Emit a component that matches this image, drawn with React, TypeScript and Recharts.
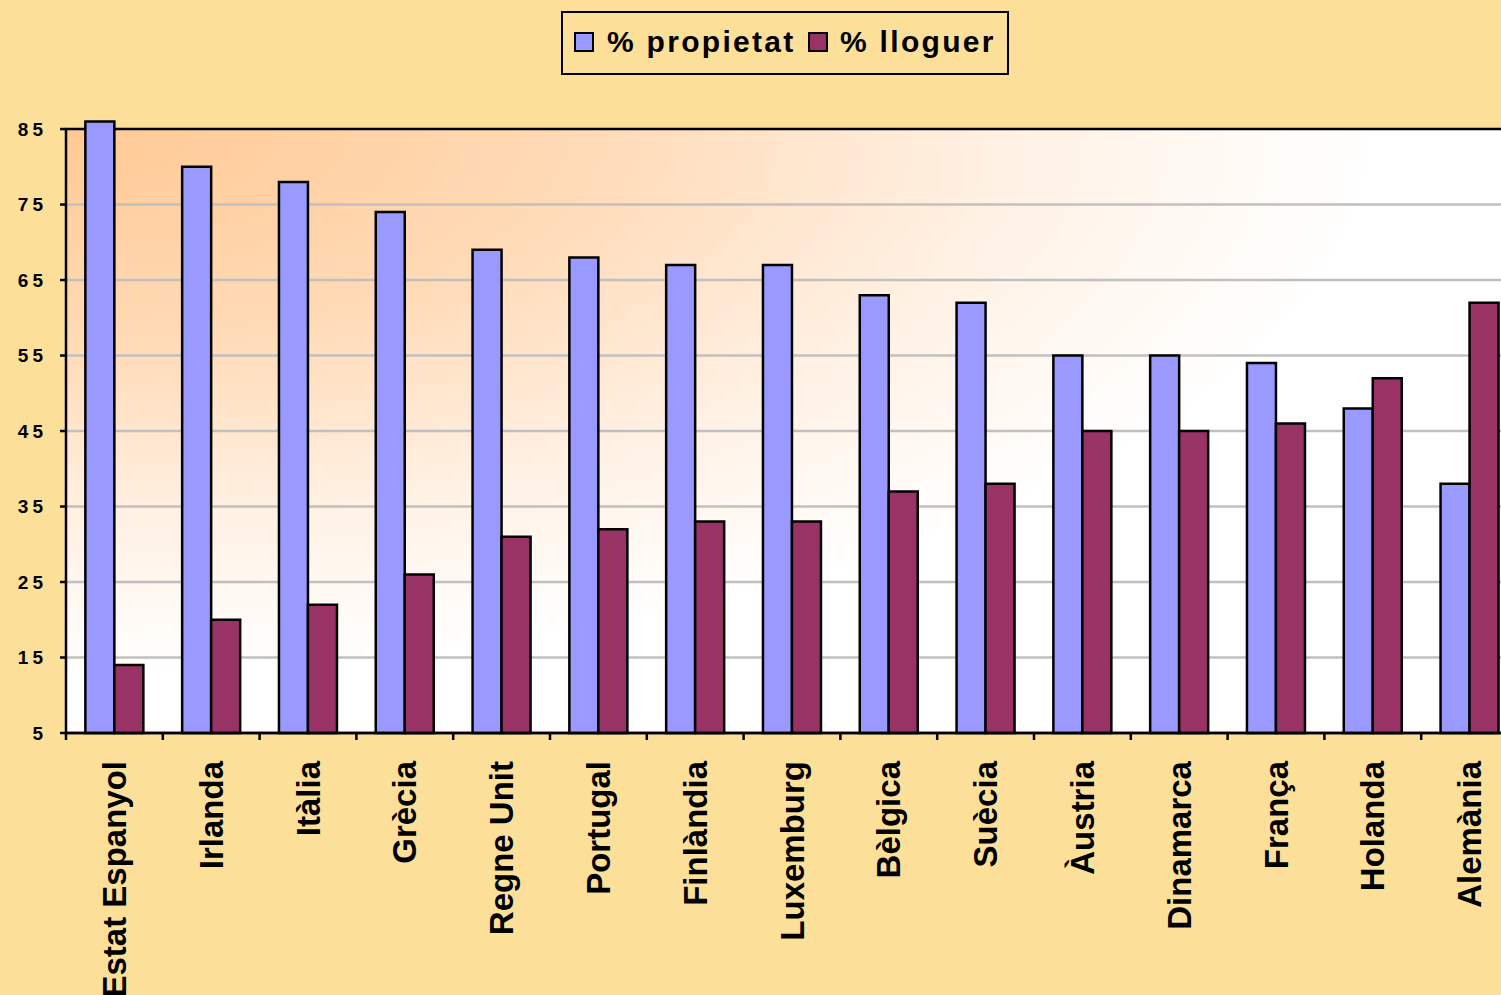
import React from 'react';
import { BarChart, Bar, XAxis, YAxis, ReferenceArea, ReferenceLine, Legend } from 'recharts';

const categories = ['Estat Espanyol', 'Irlanda', 'Itàlia', 'Grècia', 'Regne Unit', 'Portugal', 'Finlàndia', 'Luxemburg', 'Bèlgica', 'Suècia', 'Àustria', 'Dinamarca', 'França', 'Holanda', 'Alemània'];
const propietat = [86, 80, 78, 74, 69, 68, 67, 67, 63, 62, 55, 55, 54, 48, 38];
const lloguer = [14, 20, 22, 26, 31, 32, 33, 33, 37, 38, 45, 45, 46, 52, 62];
const yTicks = [5, 15, 25, 35, 45, 55, 65, 75, 85];
const gridValues = [15, 25, 35, 45, 55, 65, 75];
const seriesNames = ['% propietat', '% lloguer'];

const data = categories.map((c, i) => ({ name: c, propietat: propietat[i], lloguer: lloguer[i] }));

const BG = '#FCE09A';
const FONT = '"Liberation Sans", Arial, sans-serif';
const CHART_W = 1518;
const CHART_H = 995;
const YAXIS_W = 66;
const BAND = (CHART_W - YAXIS_W) / categories.length;

const XTick = (props: any) => {
  const { x, y, payload } = props;
  const half = BAND / 2;
  const ty = y + 28;
  return (
    <g>
      <line x1={x - half} x2={x - half} y1={y} y2={y + 7} stroke="#000" strokeWidth={2.5} />
      <text
        x={x}
        y={ty}
        transform={`rotate(-90 ${x} ${ty})`}
        textAnchor="end"
        dominantBaseline="central"
        fontSize={33}
        fontWeight="bold"
        fontFamily={FONT}
        fill="#000"
      >
        {payload.value}
      </text>
    </g>
  );
};

const LegendContent = (props: any) => {
  const raw = props.payload || [];
  const items = [...raw].sort(
    (a: any, b: any) => seriesNames.indexOf(a.value) - seriesNames.indexOf(b.value)
  );
  const pos = [
    { sq: 11, tx: 44 },
    { sq: 245, tx: 277 },
  ];
  return (
    <div
      style={{
        position: 'relative',
        width: 448,
        height: 64,
        border: '2.5px solid #000',
        boxSizing: 'border-box',
        background: BG,
        fontFamily: FONT,
      }}
    >
      {items.map((it: any, i: number) => (
        <React.Fragment key={i}>
          <div
            style={{
              position: 'absolute',
              left: pos[i].sq,
              top: 18.5,
              width: 20,
              height: 20,
              boxSizing: 'border-box',
              border: '2.5px solid #000',
              background: it.color,
            }}
          />
          <div
            style={{
              position: 'absolute',
              left: pos[i].tx,
              top: 9,
              fontSize: 30,
              fontWeight: 'bold',
              letterSpacing: 2.3,
              color: '#000',
              lineHeight: '40px',
              whiteSpace: 'nowrap',
            }}
          >
            {it.value}
          </div>
        </React.Fragment>
      ))}
    </div>
  );
};

export default function App() {
  return (
    <div
      style={{
        position: 'fixed',
        left: 0,
        top: 0,
        width: 1501,
        height: 995,
        overflow: 'hidden',
        background: BG,
      }}
    >
      <BarChart
        width={CHART_W}
        height={CHART_H}
        data={data}
        margin={{ top: 121.5, right: 0, bottom: 0, left: 0 }}
        barGap={0}
        barCategoryGap="20%"
      >
        <defs>
          <radialGradient id="plotGrad" cx="0" cy="0" r="1" fx="0" fy="0">
            <stop offset="0" stopColor="#FFC994" />
            <stop offset="0.35" stopColor="#FFDAB6" />
            <stop offset="0.65" stopColor="#FFF1E4" />
            <stop offset="0.9" stopColor="#FFFFFF" />
          </radialGradient>
        </defs>
        <ReferenceArea y1={5} y2={85} fill="url(#plotGrad)" fillOpacity={1} stroke="none" zIndex={-300} />
        {gridValues.map((v) => (
          <ReferenceLine key={v} y={v} stroke="#C0C0C0" strokeWidth={2.5} zIndex={-250} />
        ))}
        <ReferenceArea y1={5} y2={85} fill="none" fillOpacity={0} stroke="#000" strokeWidth={2.5} zIndex={-200} />
        <XAxis
          dataKey="name"
          height={CHART_H - 733}
          axisLine={{ stroke: '#000', strokeWidth: 2.5 }}
          tickLine={false}
          tickSize={0}
          tickMargin={0}
          interval={0}
          tick={<XTick />}
        />
        <YAxis
          width={YAXIS_W}
          domain={[5, 86]}
          ticks={yTicks}
          interval={0}
          axisLine={false}
          tickLine={{ stroke: '#000', strokeWidth: 2.5 }}
          tickSize={6}
          tickMargin={13}
          tick={{ fill: '#000', fontSize: 19, fontWeight: 'bold', fontFamily: FONT, letterSpacing: 4 }}
        />
        <Legend
          layout="horizontal"
          verticalAlign="middle"
          align="center"
          wrapperStyle={{ left: 561, top: 11, width: 448, height: 64 }}
          content={<LegendContent />}
        />
        <Bar dataKey="propietat" name={seriesNames[0]} fill="#9999FF" stroke="#000" strokeWidth={2.5} isAnimationActive={false} />
        <Bar dataKey="lloguer" name={seriesNames[1]} fill="#993366" stroke="#000" strokeWidth={2.5} isAnimationActive={false} />
      </BarChart>
    </div>
  );
}
